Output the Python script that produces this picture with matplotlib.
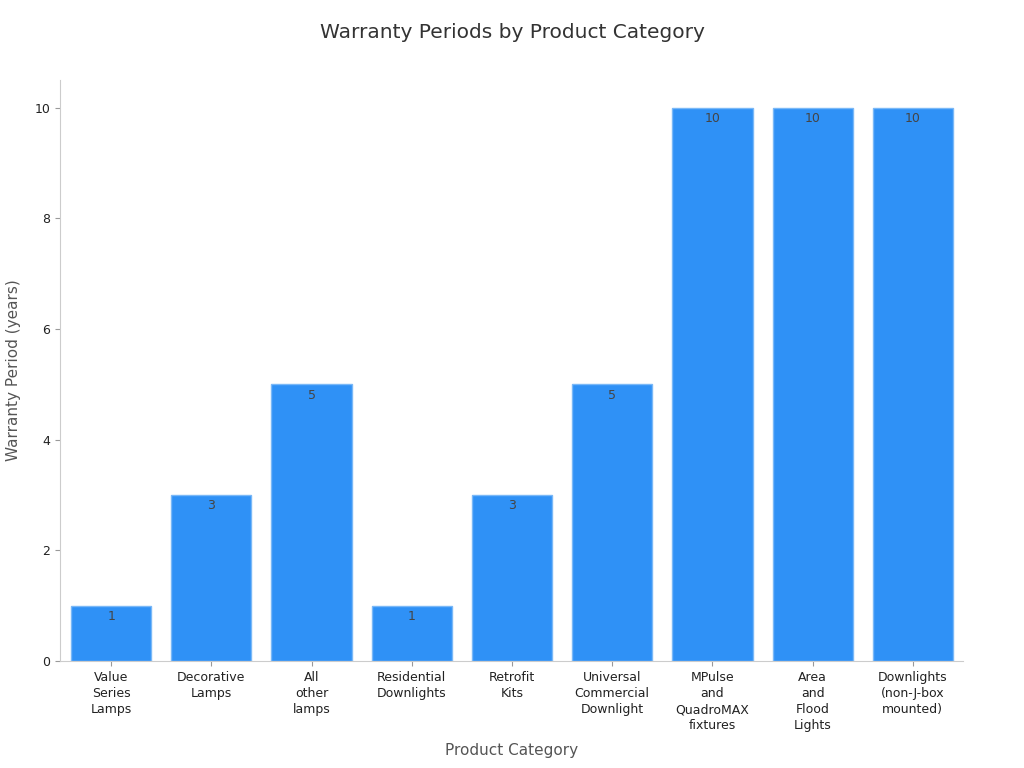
import matplotlib
matplotlib.use("Agg")
from matplotlib import pyplot as plt

categories = ["Value\nSeries\nLamps", "Decorative\nLamps", "All\nother\nlamps",
              "Residential\nDownlights", "Retrofit\nKits", "Universal\nCommercial\nDownlight",
              "MPulse\nand\nQuadroMAX\nfixtures", "Area\nand\nFlood\nLights",
              "Downlights\n(non-J-box\nmounted)"]
years = [1, 3, 5, 1, 3, 5, 10, 10, 10]

fig = plt.figure(figsize=(10.24, 7.68), dpi=100)
ax = fig.add_axes([0.0586, 0.1393, 0.8818, 0.7565])

x = list(range(len(categories)))
bars = ax.bar(x, years, width=0.8, color="#2F91F6", edgecolor="#7ab8f7", linewidth=1)
for b, v in zip(bars, years):
    ax.text(b.get_x() + b.get_width() / 2, v - 0.08, str(v), ha="center", va="top",
            fontsize=9, color="#444444")

ax.set_xlim(-0.51, 8.5)
ax.set_ylim(0, 10.5)
ax.set_yticks([0, 2, 4, 6, 8, 10])
ax.set_xticks(x)
ax.set_xticklabels(categories, fontsize=9, color="#222222", linespacing=1.32)
ax.tick_params(axis="y", labelsize=9, labelcolor="#222222", color="#999999")
ax.tick_params(axis="x", color="#999999")
for s in ["top", "right"]:
    ax.spines[s].set_visible(False)
for s in ["left", "bottom"]:
    ax.spines[s].set_color("#cccccc")

ax.set_xlabel("Product Category", fontsize=11, color="#555555", labelpad=8)
ax.set_ylabel("Warranty Period (years)", fontsize=11, color="#555555", labelpad=10)
fig.suptitle("Warranty Periods by Product Category", fontsize=14.5, color="#333333", y=0.97)

fig.savefig("out.png", dpi=100)
